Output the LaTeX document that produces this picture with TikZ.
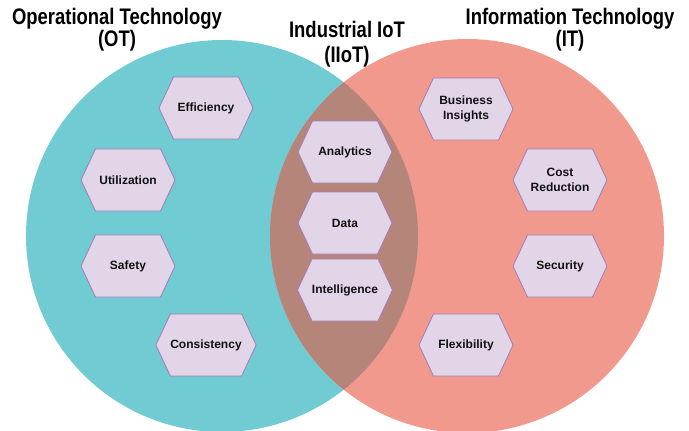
\documentclass[tikz,border=0pt]{standalone}
\usepackage{fontspec}
\setmainfont{Liberation Sans}
\newfontfamily\titlefont[FakeStretch=0.82]{Liberation Sans}
\usepackage{xcolor}
\usetikzlibrary{shapes.symbols, positioning}
\definecolor{otcol}{HTML}{71CBD2}
\definecolor{itcol}{HTML}{F1998C}
\definecolor{iiotcol}{HTML}{B5857A}
\definecolor{hexfill}{HTML}{E2D5E8}
\definecolor{hexline}{HTML}{A07CB8}
\definecolor{txt}{HTML}{111111}
\tikzset{
    hexbox/.style={signal, signal to=east and west, signal pointer angle=130,
        draw=hexline, line width=0.8pt, fill=hexfill, text=txt,
        minimum width=94pt, minimum height=62pt, inner xsep=0pt, inner ysep=1pt,
        align=center, font=\bfseries\fontsize{12}{15}\selectfont},
    titlebox/.style={text=black, align=center,
        font=\titlefont\bfseries\fontsize{22.5}{21}\selectfont}
}

\begin{document}
\begin{tikzpicture}[x=1pt,y=-1pt]
    \useasboundingbox (0,0) rectangle (689,431);

    % circles
    \coordinate (OT) at (222,236);
    \coordinate (IT) at (467,236);
    \fill[otcol] (OT) circle (196);
    \fill[itcol] (IT) circle (197);
    \begin{scope}
    \clip (OT) circle (196);
        \fill[iiotcol] (IT) circle (197);
    \end{scope}

    % titles
    \node[titlebox] (otlabel) at (117,30) {Operational Technology\\(OT)};
    \node[titlebox, font=\titlefont\bfseries\fontsize{22.5}{25.5}\selectfont]
        (iiotlabel) at (347,44) {Industrial IoT\\(IIoT)};
    \node[titlebox] (itlabel) at (570,30) {Information Technology\\(IT)};

    % OT side
    \node[hexbox] (efficiency) at (206,108) {Efficiency};
    \node[hexbox] (utilization) at (128,180) {Utilization};
    \node[hexbox] (safety) at (128,266) {Safety};
    \node[hexbox] (consistency) at (206,345) {Consistency};

    % IIoT
    \node[hexbox] (analytics) at (345,152) {Analytics};
    \node[hexbox] (data) at (345,223) {Data};
    \node[hexbox] (intelligence) at (345,290) {Intelligence};

    % IT side
    \node[hexbox] (insights) at (466,109) {Business\\Insights};
    \node[hexbox] (cost) at (560,180) {Cost\\Reduction};
    \node[hexbox] (security) at (560,266) {Security};
    \node[hexbox] (flexibility) at (466,345) {Flexibility};
\end{tikzpicture}
\end{document}
